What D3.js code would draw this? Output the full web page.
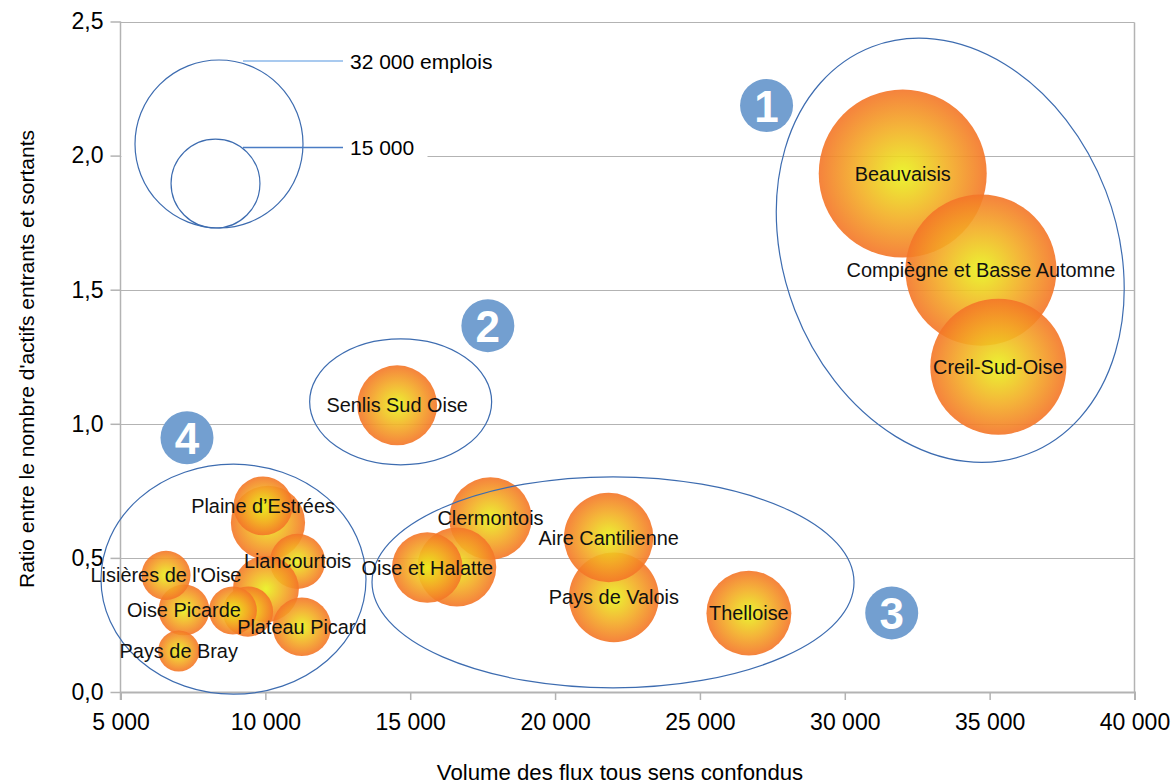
<!DOCTYPE html>
<html lang="fr">
<head>
<meta charset="utf-8">
<script src="https://cdn.jsdelivr.net/npm/d3@7"></script>
<style>
  html, body { margin: 0; padding: 0; background: #ffffff; }
  svg { display: block; font-family: "Liberation Sans", Arial, sans-serif; }
</style>
</head>
<body>
<svg id="chart" width="1174" height="784"></svg>
<script>
// Territoires de l'Oise : volume des flux domicile-travail, ratio entrants / sortants, emplois
const territoires = [
  "Beauvaisis", "Compiègne et Basse Automne", "Creil-Sud-Oise",
  "Senlis Sud Oise",
  "Clermontois", "", "Oise et Halatte", "Pays de Valois", "Aire Cantilienne", "Thelloise",
  "", "Plaine d\u2019Estrées", "Liancourtois", "", "", "",
  "Plateau Picard", "Oise Picarde", "Lisières de l'Oise", "Pays de Bray"
];
const volumeFlux = [
  32000, 34700, 35300,
  14550,
  17770, 16610, 15590, 22030, 21850, 26690,
  10090, 9920, 11110, 10020, 9400, 8880,
  11260, 7190, 6570, 7010
];
const ratioActifs = [
  1.933, 1.573, 1.213,
  1.069,
  0.647, 0.466, 0.464, 0.353, 0.576, 0.294,
  0.631, 0.694, 0.487, 0.384, 0.300, 0.304,
  0.243, 0.306, 0.435, 0.153
];
const emplois = [
  32000, 28200, 24900,
  13200,
  13700, 13000, 11400, 15200, 15100, 14200,
  12100, 9200, 8500, 10500, 7600, 7200,
  9100, 7700, 7400, 6000
];

// Tailles de référence de la légende
const legendeEmplois = [32000, 15000];
const legendeTextes = ["32 000 emplois", "15 000"];

// Regroupements de territoires (numéro, centre en unités des axes)
const groupes = [1, 2, 3, 4];
const groupeVolume = [33640, 14670, 22000, 8900];
const groupeRatio = [1.647, 1.082, 0.409, 0.4205];
const pastilleVolume = [27300, 17680, 31620, 7295];
const pastilleRatio = [2.187, 1.366, 0.295, 0.948];

const xTicks = [5000, 10000, 15000, 20000, 25000, 30000, 35000, 40000];
const yTicks = [0, 0.5, 1.0, 1.5, 2.0, 2.5];

const svg = d3.select("#chart");
const plotLeft = 120.5, plotRight = 1134.5, plotTop = 21.5, plotBottom = 692;

const x = d3.scaleLinear().domain([5000, 40000]).range([plotLeft, plotRight]);
const y = d3.scaleLinear().domain([0, 2.5]).range([plotBottom, plotTop]);
const r = d3.scalePow().exponent(0.84).domain([0, 32000]).range([0, 84]);

const fr = d3.formatLocale({ decimal: ",", thousands: "\u00a0", grouping: [3], currency: ["", " €"] });
const fmtX = fr.format(",.0f");
const fmtY = fr.format(".1f");

const gridColor = "#b3b3b3";
const ellipseColor = "#3d6cb0";

// Dégradé radial des bulles
const defs = svg.append("defs");
const grad = defs.append("radialGradient").attr("id", "bulle")
  .attr("cx", "50%").attr("cy", "50%").attr("r", "50%");
grad.append("stop").attr("offset", "0%").attr("stop-color", "#e9f21b");
grad.append("stop").attr("offset", "55%").attr("stop-color", "#f3ad24");
grad.append("stop").attr("offset", "100%").attr("stop-color", "#f47528");

// Grille horizontale
svg.append("g").selectAll("line").data(yTicks.filter(d => d > 0)).join("line")
  .attr("x1", plotLeft).attr("x2", plotRight)
  .attr("y1", d => Math.round(y(d)) + 0.5).attr("y2", d => Math.round(y(d)) + 0.5)
  .attr("stroke", gridColor).attr("stroke-width", 1);

// Bord droit de la zone de tracé
svg.append("line").attr("x1", plotRight).attr("x2", plotRight)
  .attr("y1", Math.round(y(2.5)) + 0.5).attr("y2", plotBottom)
  .attr("stroke", gridColor).attr("stroke-width", 1.5);

// Axe X
const xAxis = d3.axisBottom(x).tickValues(xTicks).tickFormat(fmtX).tickSize(8).tickPadding(14);
const gx = svg.append("g").attr("transform", `translate(0,${plotBottom})`).call(xAxis);
gx.select(".domain").attr("stroke", gridColor).attr("stroke-width", 2);
gx.selectAll(".tick line").attr("stroke", gridColor).attr("stroke-width", 1.5);
gx.selectAll(".tick text").attr("fill", "#000").style("font-size", "23px")
  .style("font-family", "Liberation Sans, Arial, sans-serif");

// Axe Y
const yAxis = d3.axisLeft(y).tickValues(yTicks).tickFormat(fmtY).tickSize(10).tickPadding(7);
const gy = svg.append("g").attr("transform", `translate(${plotLeft},0)`).call(yAxis);
gy.select(".domain").attr("stroke", gridColor).attr("stroke-width", 1.5)
  .attr("d", `M0,${y(2.5)}V${plotBottom + 8}`);
gy.selectAll(".tick line").attr("stroke", gridColor).attr("stroke-width", 1.5);
gy.selectAll(".tick text").attr("fill", "#000").style("font-size", "23px")
  .style("font-family", "Liberation Sans, Arial, sans-serif");

// Titres des axes
svg.append("text")
  .attr("x", 620).attr("y", 780)
  .attr("text-anchor", "middle")
  .style("font-size", "22.2px").attr("fill", "#000")
  .text("Volume des flux tous sens confondus");
svg.append("text")
  .attr("transform", `translate(34,359) rotate(-90)`)
  .attr("text-anchor", "middle")
  .style("font-size", "21px").attr("fill", "#000")
  .text("Ratio entre le nombre d'actifs entrants et sortants");

// Légende des tailles (fond blanc masquant la grille)
const legendBaseY = 228, legendX = 217;
const lg = svg.append("g");
lg.append("rect").attr("x", plotLeft + 1).attr("y", 40).attr("width", 306).attr("height", 200).attr("fill", "#fff");
lg.selectAll("circle").data(legendeEmplois).join("circle")
  .attr("cx", (d, i) => legendX + (i === 0 ? 2 : -1.5))
  .attr("cy", d => legendBaseY - r(d))
  .attr("r", d => r(d))
  .attr("fill", "none").attr("stroke", ellipseColor).attr("stroke-width", 1.2);
lg.selectAll("line").data(legendeEmplois).join("line")
  .attr("x1", 243).attr("x2", 343)
  .attr("y1", (d, i) => i === 0 ? legendBaseY - 2 * r(d) + 1 : 147.5)
  .attr("y2", (d, i) => i === 0 ? legendBaseY - 2 * r(d) + 1 : 147.5)
  .attr("stroke", (d, i) => i === 0 ? "#8db8ea" : "#4a7cc4").attr("stroke-width", 1.3);
lg.selectAll("text").data(legendeTextes).join("text")
  .attr("x", 350)
  .attr("y", (d, i) => i === 0 ? 69 : 155)
  .style("font-size", "21px").attr("fill", "#000")
  .text(d => d);

// Bulles
const data = territoires.map((t, i) => ({ t, v: volumeFlux[i], ratio: ratioActifs[i], e: emplois[i] }));
svg.append("g").selectAll("circle").data(data).join("circle")
  .attr("cx", d => x(d.v)).attr("cy", d => y(d.ratio)).attr("r", d => r(d.e))
  .attr("fill", "url(#bulle)").attr("fill-opacity", 0.9);

// Regroupements
const ellipseRayons = [[166.5, 218, -21], [91, 63, 0], [241, 105.5, 0], [132.5, 115, 0]];
svg.append("g").selectAll("ellipse").data(groupes).join("ellipse")
  .attr("transform", (g, i) => `translate(${x(groupeVolume[i])},${y(groupeRatio[i])}) rotate(${ellipseRayons[i][2]})`)
  .attr("rx", (g, i) => ellipseRayons[i][0]).attr("ry", (g, i) => ellipseRayons[i][1])
  .attr("fill", "none").attr("stroke", ellipseColor).attr("stroke-width", 1.2);

// Étiquettes des bulles
svg.append("g").selectAll("text").data(data.filter(d => d.t)).join("text")
  .attr("x", d => x(d.v)).attr("y", d => y(d.ratio))
  .attr("text-anchor", "middle").attr("dominant-baseline", "central")
  .style("font-size", "19.9px").attr("fill", "#111")
  .text(d => d.t);

// Pastilles numérotées
const pastilles = svg.append("g").selectAll("g").data(groupes).join("g")
  .attr("transform", (g, i) => `translate(${x(pastilleVolume[i])},${y(pastilleRatio[i])})`);
pastilles.append("circle").attr("r", 26.5).attr("fill", "#739fd0");
pastilles.append("text")
  .attr("text-anchor", "middle").attr("dominant-baseline", "central").attr("dy", 1)
  .style("font-size", "44px").style("font-weight", "bold").attr("fill", "#fff")
  .text(g => g);
</script>
</body>
</html>
